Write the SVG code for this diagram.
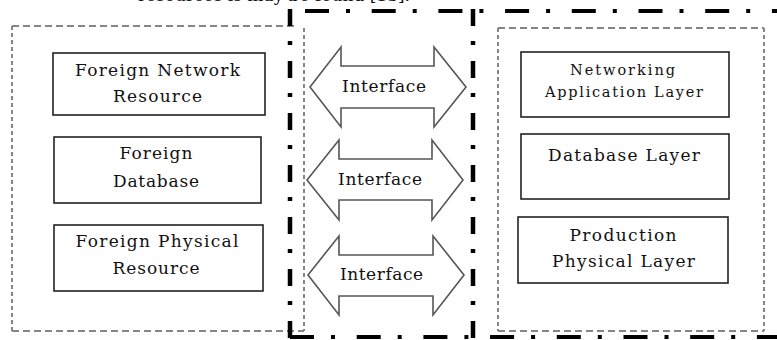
<svg xmlns="http://www.w3.org/2000/svg" width="777" height="340" viewBox="0 0 777 340">
<style>
  .bg{fill:#fff}
  .box{fill:#fff;stroke:#222;stroke-width:1.6}
  .t{font-family:"DejaVu Serif","Liberation Serif",serif;font-size:17px;fill:#111;text-anchor:middle}
  .ts{font-family:"DejaVu Serif","Liberation Serif",serif;font-size:14.5px;fill:#111;text-anchor:middle}
  .gh{stroke:#858585;stroke-width:2;stroke-dasharray:7 4;fill:none}
  .gv{stroke:#858585;stroke-width:2;stroke-dasharray:4 3;fill:none}
  .kh{stroke:#000;stroke-width:4;stroke-dasharray:24 17 4 21.7;fill:none}
  .kv{stroke:#000;stroke-width:4.5;stroke-dasharray:17 15 4 16;fill:none}
  .arr{fill:#fff;stroke:#555;stroke-width:1.6;stroke-linejoin:miter}
</style>
<rect class="bg" x="0" y="0" width="777" height="340"/>
<text class="t" x="410" y="1" style="text-anchor:end">resources is may be found [13].</text>

<g id="frames">
  <!-- left dashed group -->
  <line class="gh" x1="12" y1="26" x2="296" y2="26"/>
  <line class="gv" x1="12" y1="26" x2="12" y2="331"/>
  <line class="gh" x1="12" y1="331" x2="304" y2="331"/>
  <line class="gv" x1="304" y1="28" x2="304" y2="331"/>
  <!-- right dashed group -->
  <line class="gh" x1="498" y1="28" x2="764" y2="28"/>
  <line class="gv" x1="498" y1="28" x2="498" y2="331"/>
  <line class="gh" x1="498" y1="331" x2="764" y2="331"/>
  <line class="gv" x1="764" y1="28" x2="764" y2="331"/>
  <!-- thick dash-dot frame -->
  <line class="kh" x1="305" y1="11" x2="777" y2="11"/>
  <line class="kv" x1="290" y1="9" x2="290" y2="339"/>
  <line class="kv" x1="473" y1="9" x2="473" y2="339"/>
  <line class="kh" x1="290" y1="337" x2="777" y2="337"/>
</g>

<g id="foreign-network-resource">
  <rect class="box" x="53" y="53" width="212" height="62"/>
  <text class="t" x="157.5" y="76" textLength="165" lengthAdjust="spacing">Foreign Network</text>
  <text class="t" x="157.5" y="102" textLength="89" lengthAdjust="spacing">Resource</text>
</g>
<g id="foreign-database">
  <rect class="box" x="54" y="137" width="207" height="66"/>
  <text class="t" x="156" y="159" textLength="73" lengthAdjust="spacing">Foreign</text>
  <text class="t" x="156" y="187" textLength="86" lengthAdjust="spacing">Database</text>
</g>
<g id="foreign-physical-resource">
  <rect class="box" x="54" y="225" width="209" height="66"/>
  <text class="t" x="157" y="247" textLength="163" lengthAdjust="spacing">Foreign Physical</text>
  <text class="t" x="156" y="274" textLength="87" lengthAdjust="spacing">Resource</text>
</g>

<g id="networking-application-layer">
  <rect class="box" x="521" y="52" width="208" height="65"/>
  <text class="ts" x="622.5" y="75" textLength="105" lengthAdjust="spacing">Networking</text>
  <text class="ts" x="624" y="97" textLength="158" lengthAdjust="spacing">Application Layer</text>
</g>
<g id="database-layer">
  <rect class="box" x="521" y="134" width="208" height="65"/>
  <text class="t" x="624" y="161" textLength="152" lengthAdjust="spacing">Database Layer</text>
</g>
<g id="production-physical-layer">
  <rect class="box" x="518" y="217" width="210" height="66"/>
  <text class="t" x="623" y="241" textLength="107" lengthAdjust="spacing">Production</text>
  <text class="t" x="623.5" y="267" textLength="143" lengthAdjust="spacing">Physical Layer</text>
</g>

<g id="connectors">
  <g id="interface-1">
    <polygon class="arr" points="310,87 341,47 341,66 434,66 434,47 466,87 434,127 434,108 341,108 341,127"/>
    <text class="t" x="384" y="92" textLength="84" lengthAdjust="spacing">Interface</text>
  </g>
  <g id="interface-2">
    <polygon class="arr" points="307,180 339,140 339,159 432,159 432,140 463,180 432,220 432,200 339,200 339,220"/>
    <text class="t" x="380" y="185" textLength="84" lengthAdjust="spacing">Interface</text>
  </g>
  <g id="interface-3">
    <polygon class="arr" points="308,275 339,236 339,255 433,255 433,236 464,275 433,315 433,296 339,296 339,315"/>
    <text class="t" x="381.5" y="280" textLength="83" lengthAdjust="spacing">Interface</text>
  </g>
</g>
</svg>
